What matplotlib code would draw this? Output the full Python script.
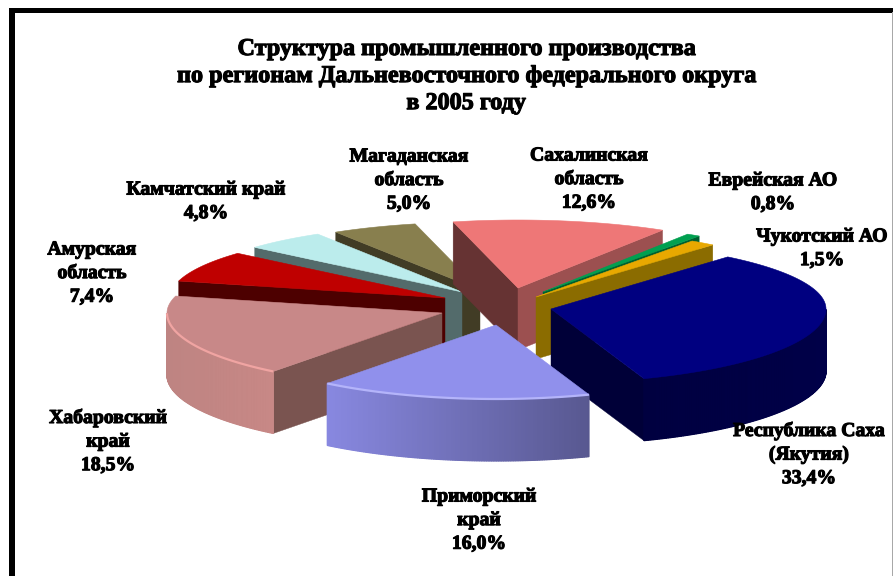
import numpy as np
import matplotlib
matplotlib.use("Agg")
import matplotlib.pyplot as plt
from matplotlib.patches import Polygon, Rectangle
import matplotlib.patheffects as pe

# ---- data (clockwise from the first slice) ----
regions = ["Республика Саха\n(Якутия)", "Приморский\nкрай", "Хабаровский\nкрай",
           "Амурская\nобласть", "Камчатский край", "Магаданская\nобласть",
           "Сахалинская\nобласть", "Еврейская АО", "Чукотский АО"]
shares = [33.4, 16.0, 18.5, 7.4, 4.8, 5.0, 12.6, 0.8, 1.5]
title = "Структура промышленного производства\nпо регионам Дальневосточного федерального округа\nв 2005 году"

# ---- styles ----
top_colors = ["#000080", "#9090EC", "#C88888", "#BF0000", "#BBECEC", "#887F4E", "#EE7777", "#00A050", "#E8A800"]
start_face = ["#000040", "#7a7ac8", "#7A5450", "#4D0000", "#536B6B", "#413C25", "#663333", "#005028", "#7a5c00"]
end_face = ["#000038", "#5c5c9c", "#7A5450", "#4D0000", "#536B6B", "#413C25", "#9C5050", "#006030", "#8B6C00"]
arc_left = ["#000040", "#8888E0", "#BE8482", "#4D0000", "#536B6B", "#413C25", "#9C5050", "#006030", "#8B6C00"]
arc_right = ["#000048", "#585890", "#C88886", "#4D0000", "#536B6B", "#413C25", "#9C5050", "#006030", "#8B6C00"]
rim = [None, "#B4B4FA", "#F0A4A2", None, None, None, None, None, None]
# exploded offsets of each slice from the pie centre, in pixels
centre = (490.0, 300.0)
explode = [(61, 9), (6, 25), (-48, 13), (-45, -2), (-28, -8), (-10, -10), (28, -12), (53, -8), (46, -3)]
draw_order = [5, 4, 3, 2, 6, 7, 8, 0, 1]
RX, RY_BACK, RY_FRONT, DEPTH, START = 275.0, 68.0, 74.0, 62.0, 50.0

label_pos = [(809, 429), (479, 495), (108, 416), (92, 248), (206, 188),
             (409, 155), (589, 154), (773, 179), (822, 235)]

fig = plt.figure(figsize=(8.93, 5.76), dpi=100, facecolor="white")
ax = fig.add_axes([0, 0, 1, 1])
ax.set_xlim(0, 893)
ax.set_ylim(576, 0)
ax.axis("off")


def rim_xy(a, t):
    t = np.asarray(t, dtype=float)
    s = np.sin(np.radians(t))
    ry = np.where(s >= 0, RY_BACK, RY_FRONT)
    return a[0] + RX * np.cos(np.radians(t)), a[1] - ry * s


def hexmix(c1, c2, f):
    c1 = np.array(matplotlib.colors.to_rgb(c1))
    c2 = np.array(matplotlib.colors.to_rgb(c2))
    return tuple(c1 + (c2 - c1) * f)


edges = START - np.concatenate([[0], np.cumsum(shares)]) * 3.6

for i in draw_order:
    ts, te = edges[i], edges[i + 1]
    apex = (centre[0] + explode[i][0], centre[1] + explode[i][1])
    ts_xy = rim_xy(apex, ts)
    te_xy = rim_xy(apex, te)

    def face(p, col):
        ax.add_patch(Polygon([apex, p, (p[0], p[1] + DEPTH), (apex[0], apex[1] + DEPTH)],
                             closed=True, fc=col, ec=col, lw=0.3))

    # radial faces turned to the viewer
    if np.sin(np.radians(ts + 90)) < 0:
        face(ts_xy, start_face[i])
    if np.sin(np.radians(te - 90)) < 0:
        face(te_xy, end_face[i])

    # outer wall: overlapping strips so no seams show between them
    tt = np.linspace(ts, te, max(int(abs(ts - te) * 2), 6))
    tt_front = tt[np.sin(np.radians(tt)) <= 0]
    if len(tt_front) > 1:
        xs, ys = rim_xy(apex, tt_front)
        span = (xs.max() - xs.min()) or 1
        ax.add_patch(Polygon(np.column_stack([np.r_[xs, xs[::-1]], np.r_[ys, ys[::-1] + DEPTH]]),
                             closed=True, fc=arc_left[i], ec="none"))
        for k in range(len(tt_front) - 1):
            col = hexmix(arc_left[i], arc_right[i], (0.5 * (xs[k] + xs[k + 1]) - xs.min()) / span)
            ax.add_patch(Polygon([(xs[k], ys[k]), (xs[k + 1], ys[k + 1]),
                                  (xs[k + 1], ys[k + 1] + DEPTH), (xs[k], ys[k] + DEPTH)],
                                 closed=True, fc=col, ec=col, lw=0.9, joinstyle="bevel"))

    # top surface
    xs, ys = rim_xy(apex, tt)
    ax.add_patch(Polygon(np.column_stack([np.r_[apex[0], xs], np.r_[apex[1], ys]]),
                         closed=True, fc=top_colors[i], ec=top_colors[i], lw=0.4))
    if rim[i] and len(tt_front) > 1:
        xs, ys = rim_xy(apex, tt_front)
        ax.plot(xs, ys, color=rim[i], lw=1.6, solid_capstyle="butt")

# frame
ax.add_patch(Rectangle((9, 8), 884, 4.5, fc="black", ec="none"))
ax.add_patch(Rectangle((9, 8), 6, 568, fc="black", ec="none"))
ax.add_patch(Rectangle((891.5, 12), 1.5, 564, fc="#a8a8a8", ec="none"))

serif = ["Liberation Serif", "DejaVu Serif"]
heavy = [pe.withStroke(linewidth=0.8, foreground="black")]

for i, (name, val) in enumerate(zip(regions, shares)):
    txt = f"{name}\n{val:.1f}%".replace(".", ",")
    ax.text(label_pos[i][0], label_pos[i][1] - 8.5, txt, family=serif, weight="bold", fontsize=14.2,
            ha="center", va="top", multialignment="center", linespacing=1.24,
            color="black", path_effects=heavy)

ax.text(466, 39, title, family=serif, weight="bold", fontsize=17.4, ha="center", va="top",
        multialignment="center", linespacing=1.38, color="black", path_effects=heavy)

fig.savefig("out.png", dpi=100, facecolor="white")
